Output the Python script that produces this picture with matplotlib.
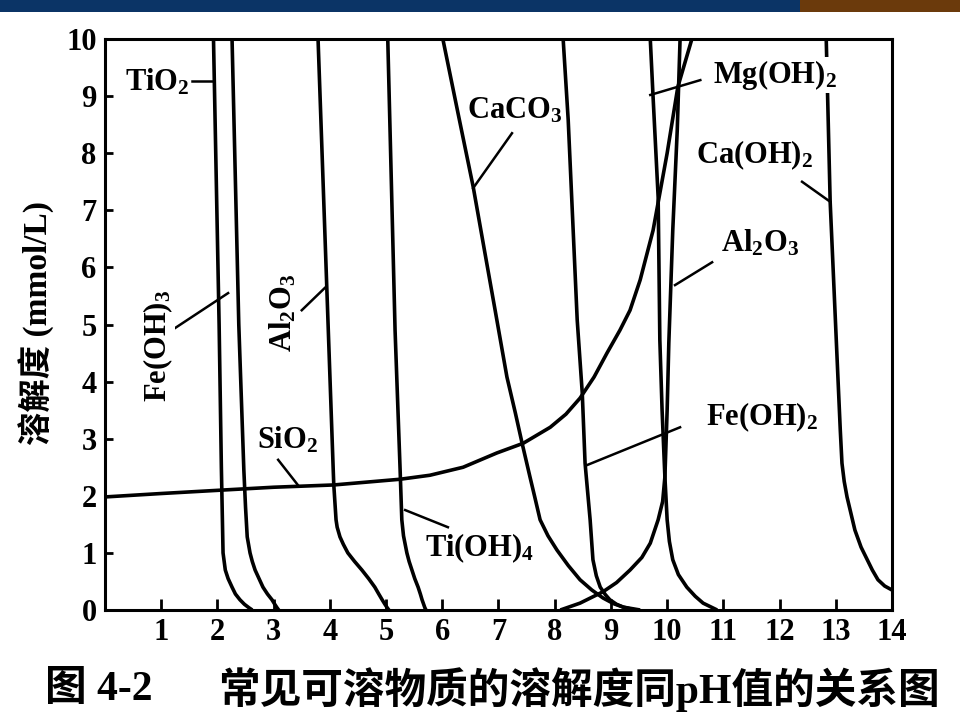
import matplotlib
matplotlib.use('Agg')
import matplotlib.pyplot as plt
from matplotlib.patches import Rectangle

plt.rcParams['mathtext.fontset'] = 'custom'
plt.rcParams['mathtext.rm'] = 'Liberation Serif:bold'
plt.rcParams['mathtext.default'] = 'regular'

# curves: pH (x) vs solubility in mmol/L (y)
tio2_x = [1.93, 1.98, 2.03, 2.07, 2.09, 2.10, 2.12, 2.14, 2.19, 2.26, 2.32, 2.40, 2.48, 2.56, 2.62]
tio2_y = [10, 7.5, 5.0, 2.5, 1.5, 1.0, 0.85, 0.70, 0.55, 0.40, 0.28, 0.18, 0.10, 0.04, 0]

feoh3_x = [2.26, 2.38, 2.47, 2.50, 2.53, 2.58, 2.62, 2.67, 2.74, 2.81, 2.89, 2.97, 3.02, 3.06, 3.09]
feoh3_y = [10, 5.0, 2.45, 1.8, 1.28, 1.0, 0.85, 0.7, 0.55, 0.4, 0.28, 0.18, 0.10, 0.04, 0]

al2o3_acid_x = [3.79, 3.97, 4.06, 4.07, 4.11, 4.13, 4.18, 4.24, 4.32, 4.44, 4.57, 4.69, 4.80, 4.87,
                4.93, 4.98, 5.02, 5.05]
al2o3_acid_y = [10, 4.96, 2.45, 2.19, 1.58, 1.45, 1.28, 1.15, 1.0, 0.85, 0.7, 0.55, 0.4, 0.28,
                0.18, 0.10, 0.04, 0]

tioh4_x = [5.03, 5.16, 5.25, 5.28, 5.31, 5.37, 5.41, 5.46, 5.51, 5.57, 5.61, 5.64, 5.69, 5.71]
tioh4_y = [10, 4.9, 2.45, 1.58, 1.3, 1.0, 0.85, 0.7, 0.55, 0.4, 0.28, 0.18, 0.04, 0]

caco3_x = [6.01, 6.28, 6.55, 6.75, 6.94, 7.15, 7.30, 7.42, 7.56, 7.64, 7.74, 7.88, 8.04, 8.24,
           8.45, 8.66, 8.86, 9.05, 9.22, 9.52]
caco3_y = [10, 8.7, 7.41, 6.3, 5.25, 4.08, 3.45, 2.92, 2.33, 2.0, 1.58, 1.30, 1.05, 0.78,
           0.53, 0.35, 0.21, 0.11, 0.05, 0]

feoh2_x = [8.15, 8.24, 8.40, 8.49, 8.54, 8.63, 8.68, 8.74, 8.81, 8.90, 8.98, 9.10, 9.22, 9.43]
feoh2_y = [10, 8.58, 5.08, 3.80, 2.57, 1.58, 0.88, 0.60, 0.40, 0.27, 0.18, 0.10, 0.05, 0]

sio2_x = [0, 1.0, 2.08, 3.0, 4.07, 5.25, 5.78, 6.37, 6.97, 7.44, 7.92, 8.20, 8.45, 8.70, 8.93,
          9.16, 9.34, 9.52, 9.75, 10.0, 10.19, 10.44]
sio2_y = [1.98, 2.04, 2.10, 2.15, 2.19, 2.29, 2.36, 2.50, 2.75, 2.92, 3.20, 3.43, 3.71, 4.08, 4.50,
          4.90, 5.25, 5.78, 6.65, 8.0, 9.16, 10]

al2o3_base_x = [8.10, 8.45, 8.86, 9.10, 9.34, 9.55, 9.70, 9.84, 9.92, 9.96, 10.0, 10.03, 10.10,
                10.18, 10.23]
al2o3_base_y = [0, 0.12, 0.32, 0.48, 0.70, 0.92, 1.17, 1.58, 1.90, 2.33, 3.5, 4.68, 6.65,
                8.41, 10]

mgoh2_x = [9.70, 9.75, 9.84, 9.87, 9.91, 9.96, 10.0, 10.04, 10.1, 10.2, 10.35, 10.5, 10.64, 10.89]
mgoh2_y = [10, 8.98, 7.23, 4.73, 3.5, 2.33, 1.58, 1.2, 0.88, 0.62, 0.40, 0.24, 0.12, 0]

caoh2_x = [12.83, 12.90, 13.04, 13.08, 13.11, 13.15, 13.20, 13.34, 13.45, 13.56, 13.65, 13.75,
           13.87, 14.0]
caoh2_y = [10, 7.15, 4.03, 3.15, 2.57, 2.25, 1.98, 1.40, 1.1, 0.88, 0.7, 0.53, 0.42, 0.35]

curves = [(tio2_x, tio2_y), (feoh3_x, feoh3_y), (al2o3_acid_x, al2o3_acid_y),
          (tioh4_x, tioh4_y), (caco3_x, caco3_y), (feoh2_x, feoh2_y),
          (sio2_x, sio2_y), (al2o3_base_x, al2o3_base_y), (mgoh2_x, mgoh2_y),
          (caoh2_x, caoh2_y)]

# labels: text, centre, rotation, leader line (from, to)
labels = [
    ('TiO$_2$', (0.93, 9.25), 0, (1.55, 9.26), (1.94, 9.26)),
    ('Fe(OH)$_3$', (0.94, 4.62), 90, (1.25, 4.94), (2.19, 5.55)),
    ('Al$_2$O$_3$', (3.17, 5.20), 90, (3.50, 5.25), (3.91, 5.64)),
    ('SiO$_2$', (3.24, 2.98), 0, (3.08, 2.63), (3.43, 2.19)),
    ('Ti(OH)$_4$', (6.67, 1.09), 0, (5.34, 1.75), (6.10, 1.45)),
    ('CaCO$_3$', (7.28, 8.74), 0, (7.24, 8.35), (6.55, 7.39)),
    ('Mg(OH)$_2$', (11.92, 9.37), 0, (9.70, 9.02), (10.59, 9.28)),
    ('Ca(OH)$_2$', (11.56, 7.97), 0, (12.40, 7.50), (12.90, 7.15)),
    ('Al$_2$O$_3$', (11.65, 6.43), 0, (10.80, 6.09), (10.14, 5.69)),
    ('Fe(OH)$_2$', (11.69, 3.38), 0, (10.23, 3.20), (8.58, 2.54)),
]

x_ticks = list(range(1, 15))
y_ticks = list(range(0, 11))

fig = plt.figure(figsize=(9.6, 7.2), dpi=100)

# slide banner at the top
fig.add_artist(Rectangle((0, 1 - 12 / 720), 1, 12 / 720, transform=fig.transFigure,
                         color='#0b3466', lw=0))
fig.add_artist(Rectangle((800 / 960, 1 - 12 / 720), 160 / 960, 12 / 720,
                         transform=fig.transFigure, color='#6b3a0c', lw=0))

ax = fig.add_axes([105 / 960, 110 / 720, 787 / 960, 571 / 720])

for cx, cy in curves:
    ax.plot(cx, cy, color='black', lw=2.6, solid_capstyle='butt', solid_joinstyle='round',
            zorder=2)

for text, (tx, ty), rot, p0, p1 in labels:
    ax.plot([p0[0], p1[0]], [p0[1], p1[1]], color='black', lw=1.8, zorder=3)
    ax.text(tx, ty, text, rotation=rot, ha='center', va='center',
            fontsize=22, fontweight='bold', family='Liberation Serif', zorder=4,
            bbox=dict(facecolor='white', edgecolor='none', pad=0.5))

ax.set_xlim(0, 14)
ax.set_ylim(0, 10)
ax.set_xticks(x_ticks)
ax.set_yticks(y_ticks)
for lab in ax.get_xticklabels() + ax.get_yticklabels():
    lab.set_family('Liberation Serif')
    lab.set_fontweight('bold')
    lab.set_fontsize(22)
ax.tick_params(axis='x', direction='in', length=8, width=2, pad=6)
ax.tick_params(axis='y', direction='in', length=6, width=2, pad=6)
for sp in ax.spines.values():
    sp.set_linewidth(2.2)

fig.text(37 / 960, 1 - 323 / 720, '溶解度 (mmol/L)', rotation=90, ha='center', va='center',
         fontsize=24, fontweight='bold', family=['Liberation Serif', 'Noto Sans CJK SC'])

fig.text(45 / 960, 1 - 690 / 720, '图 4-2', ha='left', va='center',
         fontsize=30, fontweight='bold', family=['Liberation Serif', 'Noto Sans CJK SC'])
fig.text(940 / 960, 1 - 690 / 720, '常见可溶物质的溶解度同pH值的关系图', ha='right', va='center',
         fontsize=30, fontweight='bold', family=['Liberation Serif', 'Noto Sans CJK SC'])

fig.savefig('out.png', dpi=100)
